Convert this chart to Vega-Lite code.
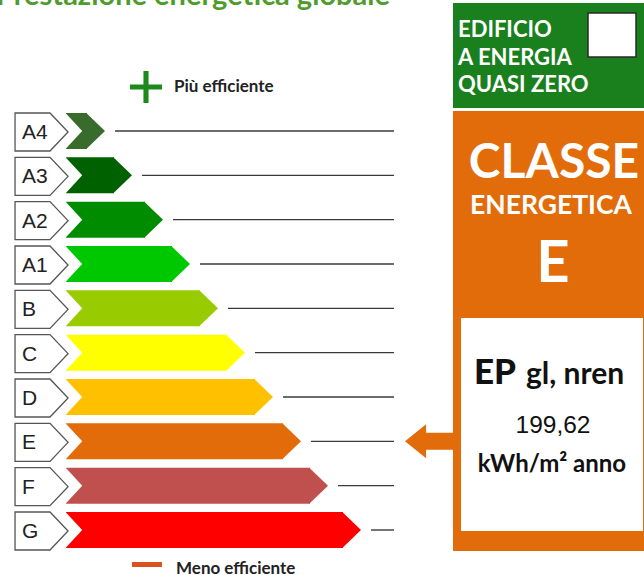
{
  "$schema": "https://vega.github.io/schema/vega-lite/v6.json",
  "width": 644,
  "height": 575,
  "padding": 0,
  "autosize": {"type": "none"},
  "background": "white",
  "config": {"view": {"stroke": null}},
  "datasets": {
    "classi": [
      {"classe": "A4", "lunghezza": 105},
      {"classe": "A3", "lunghezza": 132},
      {"classe": "A2", "lunghezza": 163},
      {"classe": "A1", "lunghezza": 190},
      {"classe": "B", "lunghezza": 218},
      {"classe": "C", "lunghezza": 245},
      {"classe": "D", "lunghezza": 273},
      {"classe": "E", "lunghezza": 301},
      {"classe": "F", "lunghezza": 328},
      {"classe": "G", "lunghezza": 361}
    ]
  },
  "encoding": {
    "y": {"field": "classe", "type": "nominal", "axis": null,
      "scale": {"type": "point", "domain": ["A4","A3","A2","A1","B","C","D","E","F","G"], "range": [131, 530], "padding": 0}}
  },
  "layer": [
    {
      "data": {"values": [{}]},
      "mark": {"type": "text", "text": "Prestazione energetica globale", "font": "Lato", "fontWeight": "bold", "fontSize": 29, "color": "#4f9c2c", "align": "left", "baseline": "alphabetic"},
      "encoding": {"x": {"value": -4}, "y": {"value": 5}}
    },
    {
      "data": {"name": "classi"},
      "mark": {"type": "rule", "color": "#3a3a3a", "strokeWidth": 1.4, "xOffset": 10},
      "encoding": {
        "x": {"field": "lunghezza", "type": "quantitative", "axis": null, "scale": {"domain": [0, 644], "nice": false, "zero": true}},
        "x2": {"value": 394}
      }
    },
    {
      "data": {"name": "classi"},
      "mark": {"type": "bar", "height": 36, "xOffset": -18},
      "encoding": {
        "x": {"field": "lunghezza", "type": "quantitative", "stack": null},
        "x2": {"value": 66},
        "color": {"field": "classe", "type": "nominal", "legend": null,
          "scale": {"domain": ["A4","A3","A2","A1","B","C","D","E","F","G"],
            "range": ["#386b2c","#006100","#008c00","#00c800","#99cc00","#ffff00","#ffc000","#e36c0a","#c0504d","#ff0000"]}}
      }
    },
    {
      "data": {"name": "classi"},
      "mark": {"type": "point", "shape": "M -0.04 -1 L 1 0 L -0.04 1 Z", "size": 1296, "filled": true, "opacity": 1, "strokeWidth": 0, "xOffset": -18},
      "encoding": {
        "x": {"field": "lunghezza", "type": "quantitative"},
        "color": {"field": "classe", "type": "nominal", "legend": null}
      }
    },
    {
      "data": {"name": "classi"},
      "mark": {"type": "point", "shape": "M -0.08 -1.06 L 0.9 0 L -0.08 1.06 Z", "size": 1296, "filled": true, "opacity": 1, "strokeWidth": 0, "color": "white"},
      "encoding": {"x": {"value": 66}}
    },
    {
      "data": {"name": "classi"},
      "mark": {"type": "point", "shape": "M -1.84 -1 L 0 -1 L 0.95 0 L 0 1 L -1.84 1 Z", "size": 1444, "filled": true, "color": "white", "opacity": 1, "stroke": "#555555", "strokeWidth": 1.3, "strokeOpacity": 1, "yOffset": 1},
      "encoding": {"x": {"value": 50}}
    },
    {
      "data": {"name": "classi"},
      "mark": {"type": "text", "font": "Liberation Sans", "fontSize": 21, "color": "#222222", "align": "left", "baseline": "middle", "dy": 2},
      "encoding": {"x": {"value": 22}, "text": {"field": "classe", "type": "nominal"}}
    },
    {
      "data": {"values": [{}]},
      "mark": {"type": "point", "shape": "M -1 -0.16 L -0.16 -0.16 L -0.16 -1 L 0.16 -1 L 0.16 -0.16 L 1 -0.16 L 1 0.16 L 0.16 0.16 L 0.16 1 L -0.16 1 L -0.16 0.16 L -1 0.16 Z", "size": 1024, "filled": true, "opacity": 1, "strokeWidth": 0, "color": "#1b8a1b"},
      "encoding": {"x": {"value": 146}, "y": {"value": 87}}
    },
    {
      "data": {"values": [{}]},
      "mark": {"type": "text", "text": "Più efficiente", "font": "Lato", "fontWeight": "bold", "fontSize": 17, "color": "#222222", "align": "left", "baseline": "alphabetic"},
      "encoding": {"x": {"value": 174}, "y": {"value": 92}}
    },
    {
      "data": {"values": [{}]},
      "mark": {"type": "rect", "color": "#d9531e"},
      "encoding": {"x": {"value": 132}, "x2": {"value": 162}, "y": {"value": 562}, "y2": {"value": 567}}
    },
    {
      "data": {"values": [{}]},
      "mark": {"type": "text", "text": "Meno efficiente", "font": "Lato", "fontWeight": "bold", "fontSize": 17, "color": "#222222", "align": "left", "baseline": "alphabetic"},
      "encoding": {"x": {"value": 176}, "y": {"value": 574}}
    },
    {
      "data": {"values": [{}]},
      "mark": {"type": "rect", "color": "#19801d"},
      "encoding": {"x": {"value": 453}, "x2": {"value": 644}, "y": {"value": 3}, "y2": {"value": 108}}
    },
    {
      "data": {"values": [{}]},
      "mark": {"type": "rect", "fill": "white", "stroke": "#2a2a2a", "strokeWidth": 1.5},
      "encoding": {"x": {"value": 588}, "x2": {"value": 636}, "y": {"value": 13}, "y2": {"value": 57}}
    },
    {
      "data": {"values": [{"riga": "EDIFICIO"}]},
      "mark": {"type": "text", "font": "Lato", "fontWeight": "bold", "fontSize": 22, "color": "white", "align": "left", "baseline": "alphabetic"},
      "encoding": {"x": {"value": 458}, "y": {"value": 37}, "text": {"field": "riga"}}
    },
    {
      "data": {"values": [{"riga": "A ENERGIA"}]},
      "mark": {"type": "text", "font": "Lato", "fontWeight": "bold", "fontSize": 22, "color": "white", "align": "left", "baseline": "alphabetic"},
      "encoding": {"x": {"value": 458}, "y": {"value": 65}, "text": {"field": "riga"}}
    },
    {
      "data": {"values": [{"riga": "QUASI ZERO"}]},
      "mark": {"type": "text", "font": "Lato", "fontWeight": "bold", "fontSize": 22, "color": "white", "align": "left", "baseline": "alphabetic"},
      "encoding": {"x": {"value": 458}, "y": {"value": 92}, "text": {"field": "riga"}}
    },
    {
      "data": {"values": [{}]},
      "mark": {"type": "rect", "color": "#e36c0a"},
      "encoding": {"x": {"value": 453}, "x2": {"value": 644}, "y": {"value": 111}, "y2": {"value": 551}}
    },
    {
      "data": {"values": [{}]},
      "mark": {"type": "rect", "color": "white"},
      "encoding": {"x": {"value": 461}, "x2": {"value": 643}, "y": {"value": 318}, "y2": {"value": 531}}
    },
    {
      "data": {"name": "classi"},
      "transform": [{"filter": "datum.classe === 'E'"}],
      "mark": {"type": "point", "shape": "M 0 0 L 1.24 -1 L 1.24 -0.5 L 2.9 -0.5 L 2.9 0.5 L 1.24 0.5 L 1.24 1 Z", "size": 1156, "filled": true, "opacity": 1, "strokeWidth": 0, "color": "#e36c0a"},
      "encoding": {"x": {"value": 405}}
    },
    {
      "data": {"values": [{"riga": "CLASSE"}]},
      "mark": {"type": "text", "font": "Lato", "fontWeight": "bold", "fontSize": 48, "color": "white", "align": "center", "baseline": "alphabetic"},
      "encoding": {"x": {"value": 554}, "y": {"value": 178}, "text": {"field": "riga"}}
    },
    {
      "data": {"values": [{"riga": "ENERGETICA"}]},
      "mark": {"type": "text", "font": "Lato", "fontWeight": "bold", "fontSize": 26.5, "color": "white", "align": "center", "baseline": "alphabetic"},
      "encoding": {"x": {"value": 551}, "y": {"value": 214}, "text": {"field": "riga"}}
    },
    {
      "data": {"name": "classi"},
      "transform": [{"filter": "datum.classe === 'E'"}],
      "mark": {"type": "text", "font": "Lato", "fontWeight": "bold", "fontSize": 58, "color": "white", "align": "center", "baseline": "alphabetic"},
      "encoding": {"x": {"value": 553}, "y": {"value": 282}, "text": {"field": "classe"}}
    },
    {
      "data": {"values": [{"riga": "EP"}]},
      "mark": {"type": "text", "font": "Lato", "fontWeight": 900, "fontSize": 35, "color": "#111111", "align": "left", "baseline": "alphabetic"},
      "encoding": {"x": {"value": 474}, "y": {"value": 384}, "text": {"field": "riga"}}
    },
    {
      "data": {"values": [{"riga": "gl, nren"}]},
      "mark": {"type": "text", "font": "Lato", "fontWeight": "bold", "fontSize": 30, "color": "#111111", "align": "left", "baseline": "alphabetic"},
      "encoding": {"x": {"value": 526}, "y": {"value": 384}, "text": {"field": "riga"}}
    },
    {
      "data": {"values": [{"valore": "199,62"}]},
      "mark": {"type": "text", "font": "Liberation Sans", "fontSize": 24.5, "color": "#111111", "align": "center", "baseline": "alphabetic"},
      "encoding": {"x": {"value": 553}, "y": {"value": 433}, "text": {"field": "valore"}}
    },
    {
      "data": {"values": [{"riga": "kWh/m² anno"}]},
      "mark": {"type": "text", "font": "Lato", "fontWeight": "bold", "fontSize": 24, "color": "#111111", "align": "center", "baseline": "alphabetic"},
      "encoding": {"x": {"value": 552}, "y": {"value": 472}, "text": {"field": "riga"}}
    }
  ]
}
